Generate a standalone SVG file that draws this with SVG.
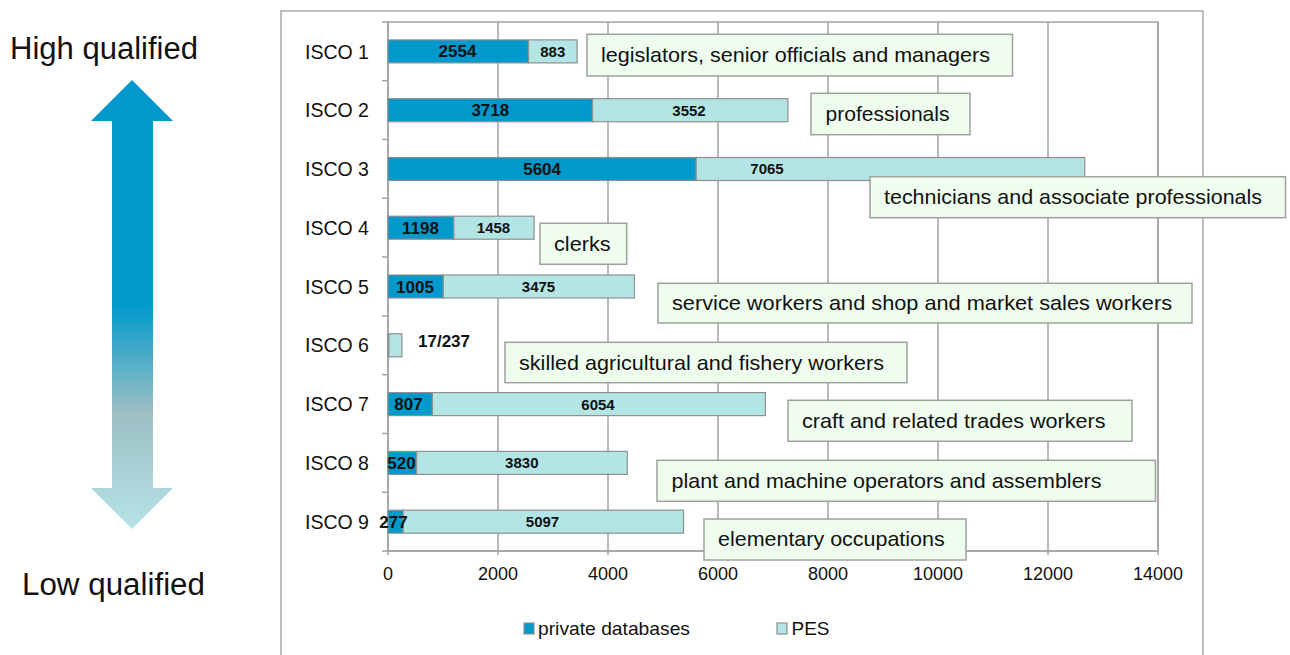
<svg xmlns="http://www.w3.org/2000/svg" width="1290" height="655" viewBox="0 0 1290 655">
<defs>
<linearGradient id="arrowGrad" gradientUnits="userSpaceOnUse" x1="0" y1="80" x2="0" y2="529">
<stop offset="0" stop-color="#0099cc"/>
<stop offset="0.5" stop-color="#0099cc"/>
<stop offset="0.74" stop-color="#9cbfc4"/>
<stop offset="1" stop-color="#b6e3e6"/>
</linearGradient>
<style>
text{font-family:"Liberation Sans",Arial,sans-serif;fill:#111}
.frame{fill:#fff;stroke:#a6a6a6;stroke-width:1.5}
.grid{stroke:#a3a3a3;stroke-width:1.5;fill:none}
.dark{fill:#0099cc;stroke:#8f8f8f;stroke-width:1.2}
.light{fill:#b3e5e4;stroke:#8f8f8f;stroke-width:1.2}
.call{fill:#effdee;stroke:#a0a0a0;stroke-width:1.5}
.ct{font-size:21px}
.cat{font-size:19.5px}
.tick{font-size:18px;text-anchor:middle}
.dl{font-size:17px;font-weight:bold;text-anchor:middle}
.ll{font-size:15px;font-weight:bold;text-anchor:middle}
.leg{font-size:19px}
.big{font-size:31px}
</style>
</defs>
<rect width="1290" height="655" fill="#fff"/>

<g id="qualification-arrow">
<polygon points="132,80 173,121 153,121 153,488 173,488 132,529 91,488 112,488 112,121 91,121" fill="url(#arrowGrad)"/>
<text class="big" x="10" y="59" textLength="188" lengthAdjust="spacingAndGlyphs">High qualified</text>
<text class="big" x="22" y="595" textLength="183" lengthAdjust="spacingAndGlyphs">Low qualified</text>
</g>

<g id="chart-frame">
<rect class="frame" x="281" y="11" width="922" height="660"/>
<rect x="388" y="22" width="770" height="529" fill="#fff" stroke="#a3a3a3" stroke-width="1.5"/>
<path class="grid" d="M498 22V555M608 22V555M718 22V555M828 22V555M938 22V555M1048 22V555M1158 22V555M388 22V555"/>
<path class="grid" d="M382 22H388M382 80.8H388M382 139.6H388M382 198.3H388M382 257.1H388M382 315.9H388M382 374.7H388M382 433.5H388M382 492.2H388M382 551H1158"/>
</g>

<g id="axis-labels">
<text class="cat" x="305" y="58.5">ISCO 1</text>
<text class="cat" x="305" y="117.3">ISCO 2</text>
<text class="cat" x="305" y="176.1">ISCO 3</text>
<text class="cat" x="305" y="234.8">ISCO 4</text>
<text class="cat" x="305" y="293.6">ISCO 5</text>
<text class="cat" x="305" y="352.4">ISCO 6</text>
<text class="cat" x="305" y="411.2">ISCO 7</text>
<text class="cat" x="305" y="470">ISCO 8</text>
<text class="cat" x="305" y="528.8">ISCO 9</text>
<text class="tick" x="388" y="580">0</text>
<text class="tick" x="498" y="580">2000</text>
<text class="tick" x="608" y="580">4000</text>
<text class="tick" x="718" y="580">6000</text>
<text class="tick" x="828" y="580">8000</text>
<text class="tick" x="938" y="580">10000</text>
<text class="tick" x="1048" y="580">12000</text>
<text class="tick" x="1158" y="580">14000</text>
</g>

<g id="bar-isco1">
<rect class="dark" x="388" y="39.9" width="140.5" height="23"/>
<rect class="light" x="528.5" y="39.9" width="48.6" height="23"/>
<text class="dl" x="457.5" y="57.4">2554</text>
<text class="ll" x="552.8" y="56.8">883</text>
</g>
<g id="bar-isco2">
<rect class="dark" x="388" y="98.7" width="204.5" height="23"/>
<rect class="light" x="592.5" y="98.7" width="195.4" height="23"/>
<text class="dl" x="490.3" y="116.2">3718</text>
<text class="ll" x="689" y="115.6">3552</text>
</g>
<g id="bar-isco3">
<rect class="dark" x="388" y="157.5" width="308.2" height="23"/>
<rect class="light" x="696.2" y="157.5" width="388.6" height="23"/>
<text class="dl" x="542.1" y="175">5604</text>
<text class="ll" x="767" y="174.4">7065</text>
</g>
<g id="bar-isco4">
<rect class="dark" x="388" y="216.2" width="65.9" height="23"/>
<rect class="light" x="453.9" y="216.2" width="80.2" height="23"/>
<text class="dl" x="420.5" y="233.7">1198</text>
<text class="ll" x="493.5" y="233.1">1458</text>
</g>
<g id="bar-isco5">
<rect class="dark" x="388" y="275" width="55.3" height="23"/>
<rect class="light" x="443.3" y="275" width="191.1" height="23"/>
<text class="dl" x="415" y="292.5">1005</text>
<text class="ll" x="538.5" y="291.9">3475</text>
</g>
<g id="bar-isco6">
<rect class="dark" x="388" y="333.8" width="0.9" height="23"/>
<rect class="light" x="388.9" y="333.8" width="13" height="23"/>
<text class="dl" x="418" y="346.5" style="text-anchor:start">17/237</text>
</g>
<g id="bar-isco7">
<rect class="dark" x="388" y="392.6" width="44.4" height="23"/>
<rect class="light" x="432.4" y="392.6" width="333" height="23"/>
<text class="dl" x="408.5" y="410.1">807</text>
<text class="ll" x="598" y="409.5">6054</text>
</g>
<g id="bar-isco8">
<rect class="dark" x="388" y="451.4" width="28.6" height="23"/>
<rect class="light" x="416.6" y="451.4" width="210.7" height="23"/>
<text class="dl" x="401.5" y="468.9">520</text>
<text class="ll" x="521.8" y="468.3">3830</text>
</g>
<g id="bar-isco9">
<rect class="dark" x="388" y="510.2" width="15.2" height="23"/>
<rect class="light" x="403.2" y="510.2" width="280.3" height="23"/>
<text class="dl" x="393.5" y="527.7">277</text>
<text class="ll" x="542.5" y="527.1">5097</text>
</g>

<g id="label-isco1">
<rect class="call" x="587" y="34.3" width="425.5" height="41.7"/>
<text class="ct" x="601" y="62" textLength="389" lengthAdjust="spacingAndGlyphs">legislators, senior officials and managers</text>
</g>
<g id="label-isco2">
<rect class="call" x="811" y="93.3" width="159" height="41.4"/>
<text class="ct" x="825.5" y="121" textLength="124" lengthAdjust="spacingAndGlyphs">professionals</text>
</g>
<g id="label-isco3">
<rect class="call" x="870" y="176.7" width="415.5" height="41"/>
<text class="ct" x="884" y="204" textLength="378" lengthAdjust="spacingAndGlyphs">technicians and associate professionals</text>
</g>
<g id="label-isco4">
<rect class="call" x="540" y="223.3" width="86.7" height="41"/>
<text class="ct" x="554" y="250.5" textLength="56.7" lengthAdjust="spacingAndGlyphs">clerks</text>
</g>
<g id="label-isco5">
<rect class="call" x="658" y="283.3" width="534" height="39.7"/>
<text class="ct" x="672" y="310" textLength="500" lengthAdjust="spacingAndGlyphs">service workers and shop and market sales workers</text>
</g>
<g id="label-isco6">
<rect class="call" x="505" y="342.3" width="402" height="40.4"/>
<text class="ct" x="519" y="369.5" textLength="365" lengthAdjust="spacingAndGlyphs">skilled agricultural and fishery workers</text>
</g>
<g id="label-isco7">
<rect class="call" x="788" y="400.3" width="344" height="41"/>
<text class="ct" x="802" y="427.5" textLength="303.6" lengthAdjust="spacingAndGlyphs">craft and related trades workers</text>
</g>
<g id="label-isco8">
<rect class="call" x="657" y="460.3" width="498.5" height="41"/>
<text class="ct" x="671.5" y="487.5" textLength="430" lengthAdjust="spacingAndGlyphs">plant and machine operators and assemblers</text>
</g>
<g id="label-isco9">
<rect class="call" x="704" y="519" width="262" height="41"/>
<text class="ct" x="718" y="546" textLength="226.7" lengthAdjust="spacingAndGlyphs">elementary occupations</text>
</g>

<g id="legend">
<rect class="dark" x="524" y="623" width="10" height="11"/>
<text class="leg" x="538" y="635" textLength="152" lengthAdjust="spacingAndGlyphs">private databases</text>
<rect class="light" x="777" y="623" width="10" height="11"/>
<text class="leg" x="791.5" y="635">PES</text>
</g>
</svg>
